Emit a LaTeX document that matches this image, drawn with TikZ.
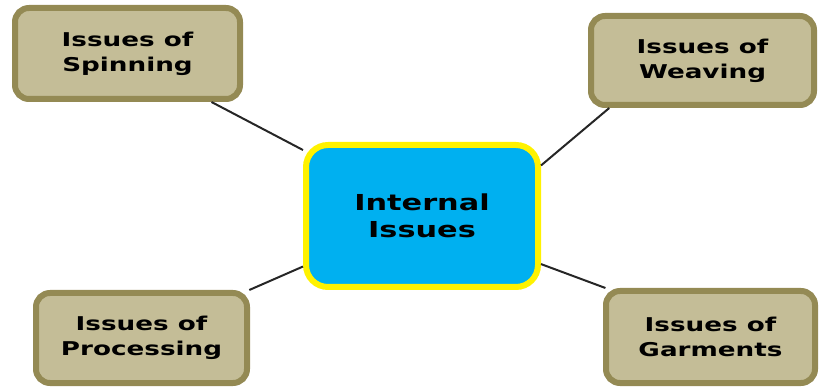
\documentclass[tikz,border=0pt]{standalone}
\usepackage{fontspec}
\newfontfamily\boxfont{DejaVu Sans}[FakeStretch=1.38]
\usepackage{tikz}
\usetikzlibrary{shapes,arrows,calc}

\definecolor{tanfill}{RGB}{196,189,151}
\definecolor{tanline}{RGB}{148,138,84}
\definecolor{cyanfill}{RGB}{0,176,240}

\begin{document}
\begin{tikzpicture}[x=1pt,y=-1pt,
  issue/.style={draw=tanline,fill=tanfill,line width=6pt,rounded corners=14pt,
    inner sep=0pt,align=center,font=\boxfont\bfseries\fontsize{19}{25}\selectfont},
  hub/.style={draw=yellow,fill=cyanfill,line width=6pt,rounded corners=22pt,
    inner sep=0pt,align=center,font=\boxfont\bfseries\fontsize{22}{27}\selectfont},
  link/.style={line width=2pt,draw=black!85}]
\useasboundingbox (0,0) rectangle (819,387);
\clip (0,0) rectangle (819,387);
\node[hub,minimum width=232pt,minimum height=142pt] (int) at (422,216) {Internal\\Issues};
\node[issue,minimum width=225pt,minimum height=91pt] (spin) at (127.5,53.5) {Issues of\\Spinning};
\node[issue,minimum width=223pt,minimum height=89pt] (weav) at (702.5,60.5) {Issues of\\Weaving};
\node[issue,minimum width=211pt,minimum height=90pt] (proc) at (141.5,338) {Issues of\\Processing};
\node[issue,minimum width=209pt,minimum height=92pt] (garm) at (710.5,337) {Issues of\\Garments};
% connectors
\draw[link] (spin.330.9) -- (int.151.1);
\draw[link] (weav.207.2) -- (int.23.6);
\draw[link] (proc.24.1) -- (int.203.5);
\draw[link] (garm.155.8) -- (int.338);
\end{tikzpicture}
\end{document}
